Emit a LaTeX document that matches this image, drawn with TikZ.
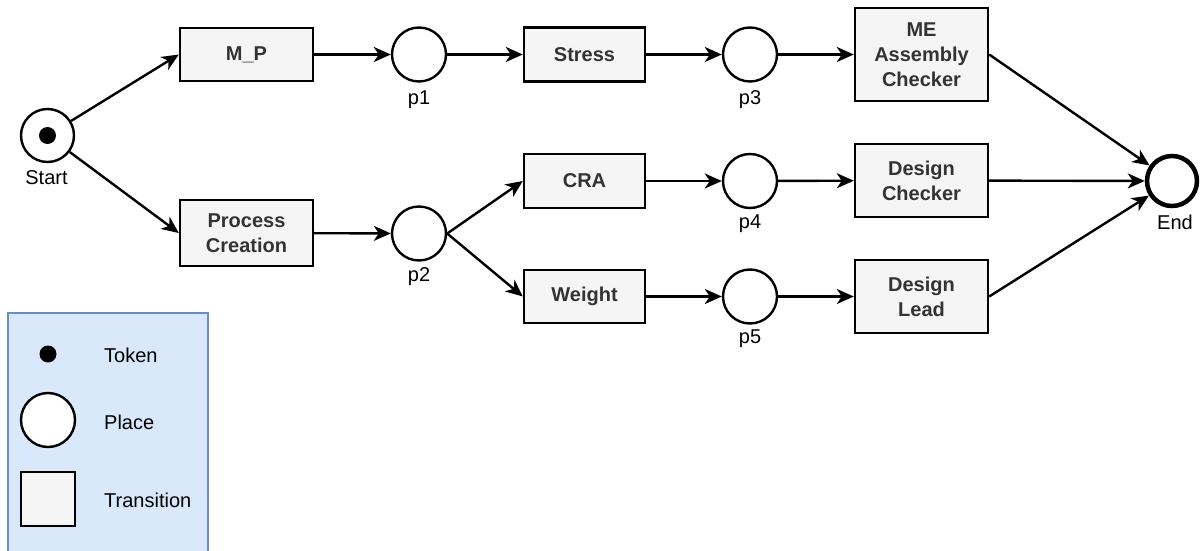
\documentclass[tikz,border=0pt]{standalone}
\usepackage{fontspec}
\setmainfont{Liberation Sans}
\usetikzlibrary{arrows.meta}
\definecolor{boxfill}{HTML}{F5F5F5}
\definecolor{boxtext}{HTML}{333333}
\definecolor{legfill}{HTML}{DAE8FC}
\definecolor{legline}{HTML}{6C8EBF}
\tikzset{
  trans/.style={draw=black, line width=2.4pt, fill=boxfill, inner sep=0pt, align=center,
    font=\fontsize{20}{25}\selectfont\bfseries, text=boxtext},
  place/.style={draw=black, line width=2.4pt, fill=white, circle, inner sep=0pt, minimum size=54pt},
  lbl/.style={font=\fontsize{20}{24}\selectfont, text=black, inner sep=0pt},
  arc/.style={line width=2.4pt, -{Stealth[length=17pt,width=15pt,inset=5pt]}},
  tok/.style={circle, fill=black, inner sep=0pt, minimum size=17pt}
}
\begin{document}
\begin{tikzpicture}[x=1pt,y=-1pt]
\useasboundingbox (0,0) rectangle (1200,551);
% legend
\fill[legfill] (8,313) rectangle (208,551);
\draw[legline, line width=2.4pt] (8,552) -- (8,313) -- (208,313) -- (208,552);
\node[tok] (ltok) at (48,354) {};
\node[place] (lplace) at (48,420) {};
\node[trans, minimum width=54pt, minimum height=54pt] (ltrans) at (48,499) {};
\node[lbl, anchor=west] (ltokl) at (104,355) {Token};
\node[lbl, anchor=west] (lplacel) at (104,422) {Place};
\node[lbl, anchor=west] (ltransl) at (104,500) {Transition};
% places
\node[place, minimum size=53pt] (start) at (47.5,135.5) {};
\node[tok] (tokstart) at (47.5,135.5) {};
\node[lbl] (startl) at (46.5,178) {Start};
\node[place] (p1) at (419,54.5) {};
\node[lbl] (p1l) at (419,100) {p1};
\node[place] (p2) at (419,233.5) {};
\node[lbl] (p2l) at (419,277) {p2};
\node[place] (p3) at (750,54.5) {};
\node[lbl] (p3l) at (750,100) {p3};
\node[place] (p4) at (750,181) {};
\node[lbl] (p4l) at (750,224) {p4};
\node[place] (p5) at (750,296.5) {};
\node[lbl] (p5l) at (750,339) {p5};
\node[place, line width=4.5pt, minimum size=50pt] (end) at (1172,181) {};
\node[lbl] (endl) at (1175,222) {End};
% transitions
\node[trans, minimum width=133pt, minimum height=53pt] (mp) at (246.5,54.5) {M\_P};
\node[trans, minimum width=133pt, minimum height=66pt] (pc) at (246.5,233) {Process\\Creation};
\node[trans, minimum width=121pt, minimum height=54pt] (stress) at (584.5,54.5) {Stress};
\node[trans, minimum width=121pt, minimum height=54pt] (cra) at (584.5,181) {CRA};
\node[trans, minimum width=121pt, minimum height=53pt] (weight) at (584.5,296.5) {Weight};
\node[trans, minimum width=133pt, minimum height=93pt] (me) at (921.5,54.5) {ME\\Assembly\\Checker};
\node[trans, minimum width=133pt, minimum height=73pt] (dc) at (921.5,180.5) {Design\\Checker};
\node[trans, minimum width=133pt, minimum height=73pt] (dl) at (921.5,296.5) {Design\\Lead};
% arcs
\draw[arc] (start) -- (mp.west);
\draw[arc] (start) -- (pc.west);
\draw[arc] (mp) -- (p1);
\draw[arc] (p1) -- (stress);
\draw[arc] (stress) -- (p3);
\draw[arc] (p3) -- (me);
\draw[arc] (pc) -- (p2);
\draw[arc] (p2.east) -- (cra.west);
\draw[arc] (p2.east) -- (weight.west);
\draw[arc] (cra) -- (p4);
\draw[arc] (p4) -- (dc);
\draw[arc] (weight) -- (p5);
\draw[arc] (p5) -- (dl);
\draw[arc] (me.east) -- (end);
\draw[arc] (dc) -- (end);
\draw[arc] (dl.east) -- (end);
\end{tikzpicture}
\end{document}
